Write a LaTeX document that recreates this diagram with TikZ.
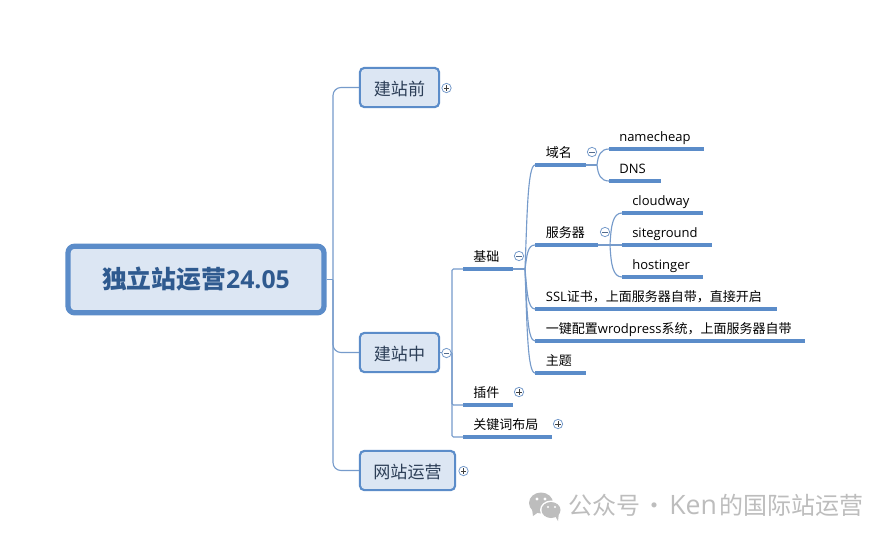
\documentclass[tikz,border=0pt]{standalone}
\usepackage{fontspec}
\setmainfont{Noto Sans CJK SC}
\newfontfamily\latf{Open Sans}
\definecolor{mmblue}{HTML}{5B8CC9}
\definecolor{mmline}{HTML}{769BCB}
\definecolor{mmfill}{HTML}{DCE6F3}
\definecolor{mmtitle}{HTML}{2F5A8F}
\definecolor{mmtext}{HTML}{2C3E57}
\definecolor{wmgrey}{HTML}{BDBDBD}
\newcommand{\sz}[1]{\fontsize{#1}{#1}\selectfont}
\newcommand{\leafnode}[6]{%
  % name, x0, x1, y, text, left pad
  \node[leaf,anchor=south west] (#1) at (#2,#4)
    {\makebox[\dimexpr 0.75pt*\numexpr #3-#2\relax\relax][l]{\hspace{#6}#5}};
  \draw[uline] (#1.south west) -- (#1.south east);
}
\tikzset{
  x=0.75pt,y=-0.75pt,
  rootbox/.style={draw=mmblue,fill=mmfill,line width=3.9pt,rounded corners=5pt,inner sep=0pt,
    font=\sz{18.6}\bfseries,text=mmtitle},
  topic/.style={draw=mmblue,fill=mmfill,line width=1.6pt,rounded corners=3.5pt,inner sep=0pt,
    font=\sz{12.8},text=mmtext,text height=14pt,text depth=2.1pt},
  leaf/.style={inner sep=0pt,text height=9pt,text depth=5.4pt,font=\sz{9.75},text=black},
  uline/.style={draw=mmblue,line width=2.6pt},
  conn/.style={draw=mmline,line width=0.85pt},
  toggle/.style={circle,draw=mmline,fill=white,line width=0.6pt,minimum size=7pt,inner sep=0pt},
  plus/.style={toggle,path picture={\draw[black!75,line width=0.45pt]
     ([xshift=-2pt]path picture bounding box.center)--([xshift=2pt]path picture bounding box.center)
     ([yshift=-2pt]path picture bounding box.center)--([yshift=2pt]path picture bounding box.center);}},
  minus/.style={toggle,path picture={\draw[mmline!70!black,line width=0.45pt]
     ([xshift=-2pt]path picture bounding box.center)--([xshift=2pt]path picture bounding box.center);}},
  wm/.style={font=\sz{18},text=wmgrey,inner sep=0pt}
}
\begin{document}
\begin{tikzpicture}
\useasboundingbox (0,0) rectangle (892,540);
\fill[white] (0,0) rectangle (892,540);

% main topics
\node[rootbox,minimum width=192pt,minimum height=50pt] (root) at (196,279.5) {独立站运营{\latf 24.05}};
\node[topic,minimum width=59.5pt,minimum height=29.5pt] (before) at (399.5,87.5) {建站前};
\node[topic,minimum width=59.5pt,minimum height=29.5pt] (during) at (399.5,352.5) {建站中};
\node[topic,minimum width=71.5pt,minimum height=29.5pt] (oper) at (407.5,470.5) {网站运营};

% leaves
\leafnode{jichu}{463}{512}{269}{基础}{7.5pt}
\leafnode{chajian}{463}{512}{405}{插件}{7.5pt}
\leafnode{guanjian}{463}{551}{437}{关键词布局}{7.5pt}
\leafnode{yuming}{535}{585}{165}{域名}{8pt}
\leafnode{fuwu}{535}{597}{245}{服务器}{8pt}
\leafnode{ssl}{535}{776}{309}{{\latf SSL}证书，上面服务器自带，直接开启}{8pt}
\leafnode{wp}{535}{804}{341}{一键配置{\latf wrodpress}系统，上面服务器自带}{8pt}
\leafnode{zhuti}{535}{585}{373}{主题}{8pt}
\leafnode{namecheap}{609}{703}{149}{{\latf namecheap}}{7.5pt}
\leafnode{dns}{609}{660}{181}{{\latf DNS}}{7.5pt}
\leafnode{cloudway}{622}{702}{213}{{\latf cloudway}}{7.5pt}
\leafnode{siteground}{622}{711}{245}{{\latf siteground}}{7.5pt}
\leafnode{hostinger}{622}{702}{277}{{\latf hostinger}}{7.5pt}

% connectors
\coordinate (trunk) at (333,279.5);
\draw[conn] (root.east) -- (trunk);
\draw[conn,rounded corners=6pt] (trunk) |- (before.west);
\draw[conn,rounded corners=6pt] (trunk) |- (during.west);
\draw[conn,rounded corners=6pt] (trunk) |- (oper.west);

\coordinate (t2) at (452,352.5);
\draw[conn] (during.east) -- (t2);
\draw[conn,rounded corners=1pt] (t2) |- (jichu.south west);
\draw[conn,rounded corners=1pt] (t2) |- (chajian.south west);
\draw[conn,rounded corners=1pt] (t2) |- (guanjian.south west);

\coordinate (t3) at (525,269);
\draw[conn] (jichu.south east) -- (t3);
\foreach \tgt/\cy/\cm in {yuming/165/220,fuwu/245/255,ssl/309/290,wp/341/310,zhuti/373/325}{
  \draw[conn] (t3) .. controls (527,\cm) and (527.5,\cy) .. (\tgt.south west);
}
\coordinate (t4) at (597,165);
\draw[conn] (yuming.south east) -- (t4);
\draw[conn] (t4) .. controls (598,155) and (601,149) .. (namecheap.south west);
\draw[conn] (t4) .. controls (598,175) and (601,181) .. (dns.south west);

\coordinate (t5) at (610,245);
\draw[conn] (fuwu.south east) -- (siteground.south west);
\draw[conn] (t5) .. controls (611,225) and (613,213) .. (cloudway.south west);
\draw[conn] (t5) .. controls (611,265) and (613,277) .. (hostinger.south west);

% toggles
\node[plus] (tgBefore) at (446.5,88) {};
\node[minus] (tgDuring) at (446.5,353) {};
\node[plus] (tgOper) at (463.5,471) {};
\node[minus] (tgJichu) at (519,256) {};
\node[minus] (tgYuming) at (592,152) {};
\node[minus] (tgFuwu) at (605,232) {};
\node[plus] (tgChajian) at (519,392) {};
\node[plus] (tgGuanjian) at (558,424) {};

% watermark
\fill[wmgrey] (541,503) ellipse [x radius=12,y radius=10.5];
\fill[wmgrey] (532,509) -- (533,516) -- (540,511) -- cycle;
\fill[white] (551,510) ellipse [x radius=11,y radius=9.5];
\fill[wmgrey] (551,510) ellipse [x radius=9.5,y radius=8];
\fill[wmgrey] (555,516) -- (558,521) -- (559,512) -- cycle;
\fill[white] (537,499) circle [radius=1.6] (545,499) circle [radius=1.6]
              (548,507) circle [radius=1.2] (555,507) circle [radius=1.2];
\node[wm,anchor=west] (mark) at (568,505) {公众号\hspace{1.5pt}·\hspace{2.25pt}{\latf\sz{20}Ken}\hspace{2pt}的国际站运营};
\end{tikzpicture}
\end{document}
